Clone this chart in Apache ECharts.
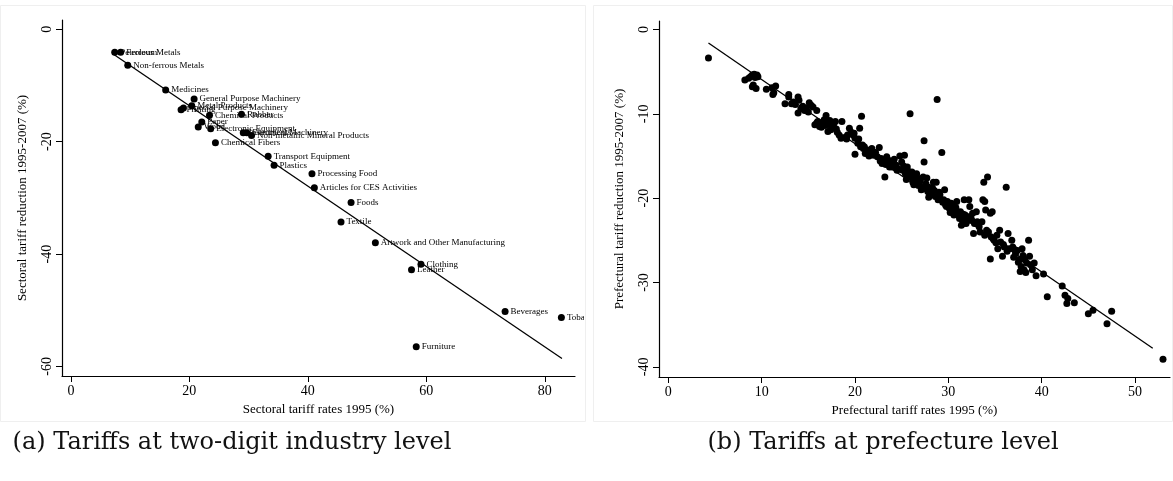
<!DOCTYPE html>
<html><head><meta charset="utf-8">
<script src="https://cdn.jsdelivr.net/npm/echarts@6/dist/echarts.min.js"></script>
<style>html,body{margin:0;padding:0;background:#fff;}#c{width:1173px;height:481px;}</style>
</head><body><div id="c"></div>
<script>
// ---------- Panel (a): two-digit industries ----------
const industryNames = [
  'Petroleum','Ferrous Metals','Non-ferrous Metals','Medicines','General Purpose Machinery',
  'Metal Products','Special Purpose Machinery','Printing','Chemical Products','Rubber',
  'Paper','Wood','Electronic Equipment','Instruments','Electrical Machinery',
  'Non-metallic Mineral Products','Chemical Fibers','Transport Equipment','Plastics','Processing Food',
  'Articles for CES Activities','Foods','Textile','Artwork and Other Manufacturing','Clothing',
  'Leather','Beverages','Tobacco','Furniture'
];
const industryRate1995 = [
  7.4, 8.4, 9.6, 16.0, 20.8,
  20.4, 19.0, 18.6, 23.4, 28.8,
  22.1, 21.5, 23.6, 29.1, 29.7,
  30.5, 24.4, 33.3, 34.3, 40.7,
  41.1, 47.3, 45.6, 51.4, 59.1,
  57.5, 73.3, 82.8, 58.3
];
const industryReduction = [
  -4.1, -4.1, -6.4, -10.8, -12.4,
  -13.6, -14.0, -14.3, -15.3, -15.1,
  -16.5, -17.4, -17.7, -18.4, -18.4,
  -18.9, -20.2, -22.6, -24.2, -25.7,
  -28.2, -30.8, -34.3, -38.0, -41.8,
  -42.8, -50.2, -51.3, -56.5
];
const industryFitLine = [[7.0, -4.3], [82.9, -58.6]];
const leftXTicks = [0, 20, 40, 60, 80];
const leftYTicks = [-60, -40, -20, 0];

// ---------- Panel (b): prefectures ----------
const prefecturePoints = [
  [4.3,-3.4],[8.2,-6.0],[8.6,-5.8],[9.0,-5.4],[9.2,-5.3],[9.5,-5.4],[9.1,-6.6],[9.4,-7.0],[9.0,-6.8],[9.3,-5.7],[8.8,-5.6],[9.6,-5.6],
  [10.5,-7.1],[11.2,-7.7],[11.1,-6.9],[11.5,-6.7],[11.3,-7.5],[12.5,-8.8],[12.9,-7.7],[12.9,-8.0],[13.2,-8.8],[13.6,-8.9],[13.9,-8.0],[14.0,-8.4],
  [13.9,-9.9],[14.4,-9.1],[14.6,-9.6],[15.0,-9.8],[15.1,-8.7],[15.5,-9.2],[15.9,-9.6],[14.2,-9.4],[13.4,-8.6],[14.8,-9.3],[15.3,-9.0],
  [15.7,-11.3],[15.9,-11.1],[16.2,-11.5],[16.5,-11.1],[16.7,-10.7],[16.9,-10.2],[17.1,-11.2],[17.3,-10.8],[17.5,-11.7],[17.7,-11.3],
  [17.9,-10.9],[17.1,-12.1],[18.1,-12.2],[18.3,-12.5],[18.6,-10.9],[18.9,-12.8],[19.2,-12.5],[19.4,-11.7],[19.6,-12.2],[19.8,-12.5],
  [20.0,-12.9],[20.0,-14.8],[19.9,-12.3],[16.0,-10.9],[16.4,-11.6],[17.4,-11.9],[18.5,-12.9],[19.1,-13.0],[18.0,-11.8],[16.8,-11.4],
  [20.3,-13.5],[20.5,-11.7],[20.7,-10.3],[20.6,-13.9],[20.9,-14.1],[21.1,-14.7],[21.3,-14.3],[21.6,-14.7],[21.8,-14.1],[22.0,-14.9],
  [22.4,-15.1],[22.6,-14.0],[22.8,-15.3],[23.0,-15.7],[23.2,-17.5],[23.4,-15.1],[23.6,-15.5],[23.8,-15.9],[24.0,-16.3],[24.2,-15.4],
  [24.4,-16.1],[24.6,-16.5],[24.8,-15.0],[20.4,-13.0],[20.8,-13.7],[21.0,-13.9],[21.5,-15.0],[22.2,-14.6],[22.9,-15.9],[23.3,-16.0],
  [23.7,-16.3],[24.1,-15.8],[24.5,-16.7],[22.7,-15.6],[21.9,-14.5],
  [25.0,-15.7],[25.3,-14.9],[25.1,-16.7],[25.4,-17.1],[25.6,-16.3],[25.8,-17.5],[25.9,-10.0],[26.1,-16.9],[26.2,-18.1],[26.4,-17.3],
  [26.6,-17.1],[26.8,-18.5],[27.0,-17.9],[27.2,-18.9],[27.3,-17.5],[27.4,-13.2],[27.4,-15.7],[27.6,-18.3],[27.8,-19.2],[27.9,-18.7],
  [28.2,-19.4],[28.4,-18.1],[28.5,-19.1],[28.7,-18.1],[28.8,-8.3],[28.9,-20.2],[29.1,-19.6],[29.3,-14.6],[29.5,-20.2],[29.6,-19.0],
  [29.7,-20.8],[29.9,-20.4],[25.2,-16.2],[25.5,-17.8],[25.7,-16.8],[26.0,-17.4],[26.3,-18.4],[26.5,-17.8],[26.9,-18.2],[27.1,-19.0],
  [27.5,-18.6],[27.7,-17.6],[28.0,-19.6],[28.3,-18.8],[28.6,-19.8],[29.0,-19.3],[29.4,-20.5],[29.8,-21.0],[26.7,-17.6],[27.9,-19.9],
  [30.1,-21.2],[30.3,-20.6],[30.5,-21.0],[30.7,-21.4],[30.9,-20.4],[31.1,-22.0],[31.3,-21.6],[31.5,-22.6],[31.7,-20.2],[31.8,-22.0],
  [31.9,-23.0],[32.1,-22.2],[32.3,-21.0],[32.2,-20.2],[32.5,-22.6],[32.7,-24.2],[33.0,-21.6],[33.1,-22.8],[33.3,-23.4],[33.6,-22.8],
  [33.7,-20.2],[33.8,-18.1],[33.9,-20.4],[34.0,-21.4],[34.2,-17.5],[34.3,-24.0],[34.5,-21.8],[34.5,-27.2],[34.7,-21.6],[34.8,-24.8],
  [34.9,-25.0],[30.2,-21.7],[30.6,-22.0],[30.8,-21.1],[31.0,-21.6],[31.2,-22.4],[31.4,-23.2],[31.6,-21.9],[32.0,-22.7],[32.4,-22.3],
  [32.8,-23.0],[33.4,-24.0],[33.9,-24.4],[34.1,-23.8],[34.6,-24.6],[31.6,-23.0],[32.6,-21.8],
  [35.2,-24.4],[35.3,-26.0],[35.5,-23.8],[35.6,-25.2],[35.8,-26.9],[36.0,-25.8],[36.2,-18.7],[36.4,-24.2],[36.5,-26.0],[36.8,-25.0],
  [36.9,-25.8],[37.0,-27.0],[37.2,-26.6],[37.4,-26.2],[37.6,-27.3],[37.8,-28.1],[37.9,-26.0],[37.7,-28.7],[38.0,-26.8],[38.2,-27.3],
  [38.4,-27.7],[38.6,-25.0],[38.8,-27.9],[39.0,-28.5],[39.2,-27.7],[39.4,-29.2],[35.1,-25.3],[35.9,-25.5],[36.3,-26.3],[37.1,-26.1],
  [37.5,-27.6],[38.1,-28.5],[38.3,-28.8],[38.7,-26.9],
  [40.2,-29.0],[40.6,-31.7],[42.2,-30.4],[42.5,-31.5],[42.7,-32.5],[42.8,-31.9],[43.5,-32.4],[45.0,-33.7],[45.5,-33.3],[47.0,-34.9],
  [47.5,-33.4],[53.0,-39.1]
];
const prefectureFitLine = [[4.3, -1.6], [51.9, -37.8]];
const rightXTicks = [0, 10, 20, 30, 40, 50];
const rightYTicks = [-40, -30, -20, -10, 0];

const captionA = '(a) Tariffs at two-digit industry level';
const captionB = '(b) Tariffs at prefecture level';

// ---------- build chart ----------
const SERIF = 'Liberation Serif';
const axisCommon = {
  axisLine: { show: true, onZero: false, lineStyle: { color: '#000', width: 1.2 } },
  axisTick: { show: true, length: 6, lineStyle: { color: '#000', width: 1 } },
  splitLine: { show: false },
  nameTextStyle: { fontFamily: SERIF, fontSize: 13, color: '#000' }
};
function xAxis(grid, min, max, ticks, name) {
  return Object.assign({}, axisCommon, {
    type: 'value', gridIndex: grid, min: min, max: max,
    name: name, nameLocation: 'middle', nameGap: 25,
    axisTick: Object.assign({}, axisCommon.axisTick, { customValues: ticks }),
    axisLabel: { customValues: ticks, fontFamily: SERIF, fontSize: 14, color: '#000', margin: 8 }
  });
}
function yAxis(grid, min, max, ticks, name) {
  return Object.assign({}, axisCommon, {
    type: 'value', gridIndex: grid, min: min, max: max,
    name: name, nameLocation: 'middle', nameGap: 33, nameRotate: 90,
    axisTick: Object.assign({}, axisCommon.axisTick, { customValues: ticks }),
    axisLabel: { customValues: ticks, rotate: 90, fontFamily: SERIF, fontSize: 14, color: '#000', margin: 8 }
  });
}

const industryData = industryNames.map((n, i) => ({ name: n, value: [industryRate1995[i], industryReduction[i]] }));

const chart = echarts.init(document.getElementById('c'), null, { renderer: 'canvas' });
chart.setOption({
  animation: false,
  backgroundColor: '#fff',
  grid: [
    { left: 62, top: 20, width: 513, height: 356 },
    { left: 659, top: 21, width: 511, height: 356 }
  ],
  xAxis: [
    xAxis(0, -1.5, 85.1, leftXTicks, 'Sectoral tariff rates 1995 (%)'),
    xAxis(1, -1.0, 53.75, rightXTicks, 'Prefectural tariff rates 1995 (%)')
  ],
  yAxis: [
    yAxis(0, -61.7, 1.66, leftYTicks, 'Sectoral tariff reduction 1995-2007 (%)'),
    yAxis(1, -41.2, 1.0, rightYTicks, 'Prefectural tariff reduction 1995-2007 (%)')
  ],
  graphic: [
    // sub-figure edge crops the overflowing label, as in the reference
    { type: 'rect', shape: { x: 584, y: 300, width: 26, height: 30 }, style: { fill: '#fff' }, silent: true, z: 100 },
    { type: 'rect', shape: { x: 0.5, y: 5.5, width: 585, height: 416 }, style: { fill: 'none', stroke: '#efefef', lineWidth: 1 }, silent: true, z: 101 },
    { type: 'rect', shape: { x: 593.5, y: 5.5, width: 579, height: 416 }, style: { fill: 'none', stroke: '#efefef', lineWidth: 1 }, silent: true, z: 101 },
    { type: 'text', x: 232, y: 443, style: { text: captionA, fontFamily: 'DejaVu Serif', fontSize: 24, fill: '#111', align: 'center', verticalAlign: 'middle' } },
    { type: 'text', x: 883, y: 443, style: { text: captionB, fontFamily: 'DejaVu Serif', fontSize: 24, fill: '#111', align: 'center', verticalAlign: 'middle' } }
  ],
  series: [
    {
      type: 'line', xAxisIndex: 0, yAxisIndex: 0, data: industryFitLine,
      showSymbol: false, symbol: 'none', lineStyle: { color: '#000', width: 1.3 }, z: 2
    },
    {
      type: 'scatter', xAxisIndex: 0, yAxisIndex: 0, data: industryData,
      symbolSize: 7, itemStyle: { color: '#000', opacity: 1 }, z: 3,
      label: { show: true, position: 'right', distance: 2, formatter: '{b}', fontFamily: SERIF, fontSize: 9, color: '#000' }
    },
    {
      type: 'line', xAxisIndex: 1, yAxisIndex: 1, data: prefectureFitLine,
      showSymbol: false, symbol: 'none', lineStyle: { color: '#000', width: 1.3 }, z: 2
    },
    {
      type: 'scatter', xAxisIndex: 1, yAxisIndex: 1, data: prefecturePoints,
      symbolSize: 7, itemStyle: { color: '#000', opacity: 1 }, z: 3
    }
  ]
});
</script>
</body></html>
